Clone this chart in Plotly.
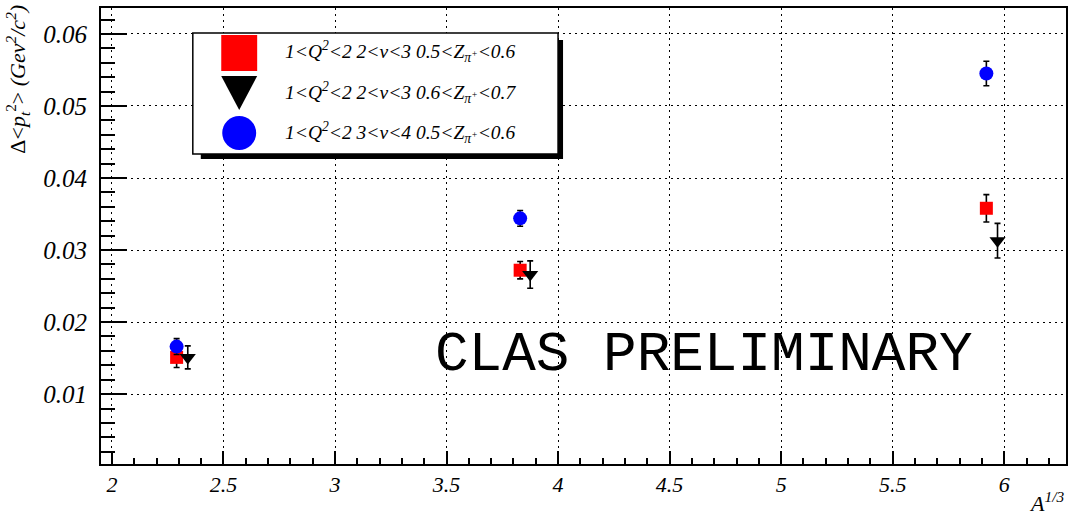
import plotly.graph_objects as go

# ---------------- data ----------------
x_red = [2.29, 3.83, 5.92]
y_red = [0.0151, 0.0272, 0.0358]
e_red = [0.0014, 0.0012, 0.0019]

x_black = [2.34, 3.875, 5.97]
y_black = [0.0151, 0.0266, 0.0313]
e_black = [0.0016, 0.0019, 0.0024]

x_blue = [2.29, 3.83, 5.92]
y_blue = [0.0166, 0.0344, 0.0545]
e_blue = [0.0011, 0.0011, 0.0017]

x_tickvals = [2, 2.5, 3, 3.5, 4, 4.5, 5, 5.5, 6]
x_ticktext = ["2", "2.5", "3", "3.5", "4", "4.5", "5", "5.5", "6"]
y_tickvals = [0.01, 0.02, 0.03, 0.04, 0.05, 0.06]
y_ticktext = ["0.01", "0.02", "0.03", "0.04", "0.05", "0.06"]

labels = [
    "1&lt;Q<sup>2</sup>&lt;2 2&lt;ν&lt;3 0.5&lt;Z<sub>π<sup>+</sup></sub>&lt;0.6",
    "1&lt;Q<sup>2</sup>&lt;2 2&lt;ν&lt;3 0.6&lt;Z<sub>π<sup>+</sup></sub>&lt;0.7",
    "1&lt;Q<sup>2</sup>&lt;2 3&lt;ν&lt;4 0.5&lt;Z<sub>π<sup>+</sup></sub>&lt;0.6",
]
colors = ["#ff0000", "#000000", "#0000ff"]
symbols = ["square", "triangle-down", "circle"]

X_RANGE = [1.951, 6.277]
Y_RANGE = [0.0003, 0.0636]

# ---------------- figure ----------------
W, H = 1070, 516
ML, MR, MT, MB = 101, 2, 8, 52
PW, PH = W - ML - MR, H - MT - MB


def px(x):
    return (x - ML) / PW


def py(y):
    return (H - MB - y) / PH


fig = go.Figure()
serif = "Liberation Serif"

series = [(x_red, y_red, e_red), (x_black, y_black, e_black), (x_blue, y_blue, e_blue)]
msizes = [13, 14, 14]
for (xs, ys, es), c, s, ms in zip(series, colors, symbols, msizes):
    fig.add_trace(go.Scatter(
        x=xs, y=ys, mode="markers",
        marker=dict(color=c, symbol=s, size=ms, line=dict(width=0)),
        error_y=dict(type="data", array=es, visible=True, color="black",
                     thickness=1.6, width=3),
        showlegend=False, hoverinfo="skip"))

# ---------------- manual legend (box, shadow, glyphs) ----------------
fig.add_shape(type="rect", xref="paper", yref="paper",
              x0=px(201), x1=px(564), y0=py(40), y1=py(159),
              fillcolor="black", line=dict(width=0), layer="above")
fig.add_shape(type="rect", xref="paper", yref="paper",
              x0=px(193), x1=px(559), y0=py(33), y1=py(154),
              fillcolor="white", line=dict(color="black", width=1.5), layer="above")

cx = 239.5
fig.add_shape(type="rect", xref="paper", yref="paper",
              x0=px(cx - 18), x1=px(cx + 18), y0=py(35), y1=py(71),
              fillcolor=colors[0], line=dict(width=0), layer="above")
tri = "M {:.5f} {:.5f} L {:.5f} {:.5f} L {:.5f} {:.5f} Z".format(
    px(cx - 18), py(76), px(cx + 18), py(76), px(cx), py(110))
fig.add_shape(type="path", xref="paper", yref="paper", path=tri,
              fillcolor=colors[1], line=dict(width=0), layer="above")
fig.add_shape(type="circle", xref="paper", yref="paper",
              x0=px(cx - 17), x1=px(cx + 17), y0=py(116), y1=py(150),
              fillcolor=colors[2], line=dict(width=0), layer="above")

text_rows = [52, 92, 132]
for i in range(3):
    fig.add_annotation(xref="paper", yref="paper", x=px(283), y=py(text_rows[i]),
                       xanchor="left", yanchor="middle", showarrow=False,
                       text="<i>" + labels[i] + "</i>",
                       font=dict(family=serif, size=19.5, color="black"))

# ---------------- texts ----------------
fig.add_annotation(xref="paper", yref="paper", x=px(705), y=py(355),
                   xanchor="center", yanchor="middle", showarrow=False,
                   text="CLAS PRELIMINARY",
                   font=dict(family="Liberation Mono", size=56, color="black"))

fig.add_annotation(xref="paper", yref="paper", x=px(17), y=py(3),
                   xanchor="center", yanchor="top", showarrow=False, textangle=-90,
                   text="Δ&lt;<i>p</i><sub><i>t</i></sub><sup>2</sup>&gt; <i>(Gev<sup>2</sup>/c<sup>2</sup>)</i>",
                   font=dict(family=serif, size=22, color="black"))

fig.add_annotation(xref="paper", yref="paper", x=1.0, y=py(518),
                   xanchor="right", yanchor="bottom", showarrow=False,
                   text="<i>A<sup>1/3</sup></i>",
                   font=dict(family=serif, size=22, color="black"))

fig.update_layout(
    width=W, height=H,
    margin=dict(l=ML, r=MR, t=MT, b=MB, pad=0),
    paper_bgcolor="white", plot_bgcolor="white",
    font=dict(family=serif, color="black"),
    showlegend=False,
    xaxis=dict(range=X_RANGE, tickmode="array", tickvals=x_tickvals,
               ticktext=["<i>" + t + "</i>" for t in x_ticktext],
               showgrid=True, gridcolor="black",
               griddash="2px,4px", gridwidth=1.3, zeroline=False,
               showline=True, mirror=True, linecolor="black", linewidth=2,
               ticks="inside", ticklen=13, tickwidth=1.5, tickcolor="black",
               tickfont=dict(family=serif, size=22, color="black"),
               minor=dict(dtick=0.1, tick0=2, ticks="inside", ticklen=6, tickwidth=1.5,
                          tickcolor="black", showgrid=False)),
    yaxis=dict(range=Y_RANGE, tickmode="array", tickvals=y_tickvals,
               ticktext=["<i>" + t + "</i>" for t in y_ticktext],
               showgrid=True, gridcolor="black",
               griddash="2px,4px", gridwidth=1.3, zeroline=False,
               showline=True, mirror=True, linecolor="black", linewidth=2,
               ticks="inside", ticklen=26, tickwidth=1.5, tickcolor="black",
               ticklabelstandoff=7,
               tickfont=dict(family=serif, size=25, color="black"),
               minor=dict(dtick=0.002, tick0=0, ticks="inside", ticklen=14, tickwidth=1.5,
                          tickcolor="black", showgrid=False)),
)

fig.write_html("out.html")
